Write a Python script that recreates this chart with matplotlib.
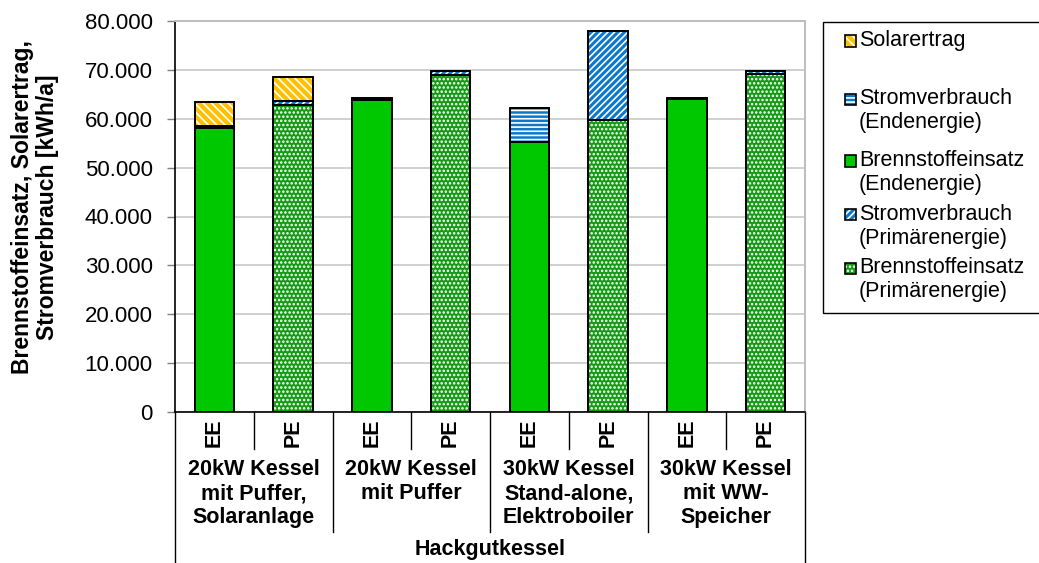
import matplotlib
matplotlib.use("Agg")
import matplotlib.pyplot as plt
from matplotlib.patches import Rectangle
from matplotlib.ticker import FuncFormatter
import matplotlib.transforms as mtransforms

plt.rcParams['font.family'] = ['Liberation Sans', 'DejaVu Sans']
plt.rcParams['hatch.linewidth'] = 1.2

# --- data -------------------------------------------------------------
bar_labels = ["EE", "PE", "EE", "PE", "EE", "PE", "EE", "PE"]
groups = ["20kW Kessel\nmit Puffer,\nSolaranlage",
          "20kW Kessel\nmit Puffer",
          "30kW Kessel\nStand-alone,\nElektroboiler",
          "30kW Kessel\nmit WW-\nSpeicher"]
outer_group = "Hackgutkessel"

brennstoff_ee = [58200, 0, 63900, 0, 55300, 0, 64000, 0]
strom_ee      = [300,   0, 250,   0, 6800,  0, 250,   0]
brennstoff_pe = [0, 62900, 0, 69000, 0, 59700, 0, 69100]
strom_pe      = [0, 700,   0, 700,   0, 18300, 0, 700]
solarertrag   = [5000, 5000, 0, 0, 0, 0, 0, 0]

# --- styles -----------------------------------------------------------
styles = {
    "Solarertrag": dict(face="#FFC000", hatch="\\\\\\\\"),
    "Stromverbrauch\n(Endenergie)": dict(face="#0A78CC", hatch="----"),
    "Brennstoffeinsatz\n(Endenergie)": dict(face="#00C800", hatch=None),
    "Stromverbrauch\n(Primärenergie)": dict(face="#0A78CC", hatch="/////"),
    "Brennstoffeinsatz\n(Primärenergie)": dict(face="#149A14", hatch="...."),
}

W, H = 1039, 563
fig = plt.figure(figsize=(W / 100, H / 100), dpi=100)
ax = fig.add_axes([175 / W, 1 - 412 / H, 630 / W, 391 / H])

x = list(range(len(bar_labels)))
width = 0.5


def stacked(values, bottoms, key):
    st = styles[key]
    hatch = st["hatch"]
    # filled layer carrying the white pattern
    ax.bar(x, values, width, bottom=bottoms, color=st["face"],
           edgecolor="white" if hatch else st["face"], hatch=hatch,
           linewidth=0, zorder=2)
    # black outline on top
    ax.bar(x, values, width, bottom=bottoms, fill=False,
           edgecolor="black", linewidth=1.4, zorder=3)
    return [b + v for b, v in zip(bottoms, values)]


bottom = [0] * len(x)
bottom = stacked(brennstoff_ee, bottom, "Brennstoffeinsatz\n(Endenergie)")
bottom = stacked(brennstoff_pe, bottom, "Brennstoffeinsatz\n(Primärenergie)")
bottom = stacked(strom_ee, bottom, "Stromverbrauch\n(Endenergie)")
bottom = stacked(strom_pe, bottom, "Stromverbrauch\n(Primärenergie)")
bottom = stacked(solarertrag, bottom, "Solarertrag")

# --- axes -------------------------------------------------------------
ax.set_xlim(-0.5, len(x) - 0.5)
ax.set_ylim(0, 80000)
ax.set_yticks(range(0, 80001, 10000))
ax.yaxis.set_major_formatter(
    FuncFormatter(lambda v, p: f"{int(v):,}".replace(",", ".")))
ax.tick_params(axis="y", labelsize=16, length=6, width=1, pad=10,
               color="#808080")
ax.set_xticks([])
ax.grid(axis="y", color="#d0d0d0", linewidth=1.4, zorder=0)
ax.set_axisbelow(True)
for s in ("top", "right"):
    ax.spines[s].set_color("#bdbdbd")
    ax.spines[s].set_linewidth(1.4)
ax.spines["left"].set_color("black")
ax.spines["bottom"].set_color("black")
ax.spines["left"].set_linewidth(1.2)
ax.spines["bottom"].set_linewidth(1.2)

fig.text(35 / W, 1 - 207 / H,
         "Brennstoffeinsatz, Solarertrag,\nStromverbrauch [kWh/a]",
         rotation=90, ha="center", va="center", fontsize=16.5,
         fontweight="bold", linespacing=1.12)

# --- hierarchical category axis ---------------------------------------
trans = mtransforms.blended_transform_factory(ax.transData, fig.transFigure)


def fy(py):
    return 1 - py / H


for i, lab in enumerate(bar_labels):
    ax.text(i, fy(433), lab, transform=trans, rotation=90, ha="center",
            va="center", fontsize=15.5, fontweight="bold")

for i in range(len(x) + 1):
    xs = i - 0.5
    if i in (0, len(x)):
        y_end = 563
    elif i % 2 == 0:
        y_end = 532
    else:
        y_end = 449
    ax.plot([xs, xs], [fy(412), fy(y_end)], transform=trans, color="black",
            linewidth=1, clip_on=False, zorder=1)

for g, name in enumerate(groups):
    ax.text(2 * g + 0.5, fy(459), name, transform=trans, ha="center",
            va="top", fontsize=15.5, fontweight="bold", linespacing=1.2)

ax.text((len(x) - 1) / 2, fy(550), outer_group, transform=trans,
        ha="center", va="center", fontsize=15.5, fontweight="bold")

# --- legend -----------------------------------------------------------
fig.patches.append(Rectangle((823 / W, fy(313)), (W - 823 + 5) / W,
                             (313 - 22) / H, transform=fig.transFigure,
                             fill=False, edgecolor="black", linewidth=1))
legend_rows = [41, 99, 161, 215, 268]
for key, py in zip(styles, legend_rows):
    st = styles[key]
    rx, rs = 845, 11
    fig.patches.append(Rectangle((rx / W, fy(py + rs / 2)), rs / W, rs / H,
                                 transform=fig.transFigure,
                                 facecolor=st["face"],
                                 edgecolor="white" if st["hatch"] else st["face"],
                                 hatch=st["hatch"], linewidth=0))
    fig.patches.append(Rectangle((rx / W, fy(py + rs / 2)), rs / W, rs / H,
                                 transform=fig.transFigure, fill=False,
                                 edgecolor="black", linewidth=1.2))
    fig.text(859 / W, fy(py - 11), key, ha="left", va="top", fontsize=15.5,
             linespacing=1.2)

fig.savefig("out.png", dpi=100)
